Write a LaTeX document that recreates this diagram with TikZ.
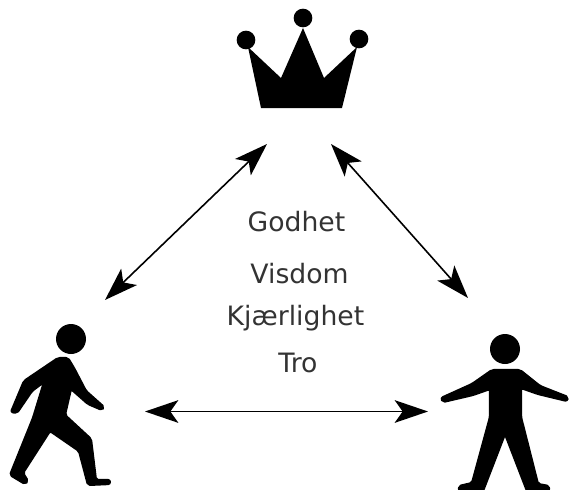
\documentclass[tikz,border=0pt]{standalone}
\usepackage{fontspec}
\setmainfont{DejaVu Sans}
\usetikzlibrary{arrows.meta,positioning,calc}

\tikzset{
    figure/.style={fill=black, draw=black, line width=1.6pt, line join=round, rounded corners=1.5pt},
    ball/.style={circle, fill=black, inner sep=0pt, minimum size=#1},
    link/.style={{Stealth[length=25pt,width=17pt,inset=6pt]}-{Stealth[length=25pt,width=17pt,inset=6pt]}, line width=1.2pt},
    word/.style={font=\fontsize{20pt}{22pt}\selectfont, text=black!80, inner sep=0pt, anchor=base}
}

\begin{document}
\begin{tikzpicture}[x=0.75pt,y=-0.75pt]
    \useasboundingbox (0,0) rectangle (569,490);

    % Crown
    \fill (261,108) -- (342,108) -- (357,47) -- (324,78) -- (303,28) -- (281,78) -- (248,47) -- cycle;
    \node[ball=14pt] (crownleft) at (246,40) {};
    \node[ball=14pt] (crowntop) at (303,18) {};
    \node[ball=14pt] (crownright) at (359,39) {};

    % Walking person
    \node[ball=22.5pt] (walkerhead) at (71,339) {};
    \draw[figure] (58,358) -- (68,358) -- (74,368) -- (86,391) -- (104,407) -- (102,410) -- (88,404) -- (71,389)
        -- (65,415) -- (91,439) -- (96,480) -- (110,480) -- (110,484) -- (88,485) -- (79,451) -- (50,431)
        -- (23,473) -- (28,481) -- (25,484) -- (10,475) -- (33,418) -- (44,382) -- (32,391) -- (17,413) -- (11,412)
        -- (24,381) -- cycle;

    % Standing person
    \node[ball=22.5pt] (standerhead) at (505,349) {};
    \draw[figure] (492,370) -- (520,370) -- (540,386) -- (568,397) -- (567,401) -- (538,394) -- (521,388)
        -- (521,417) -- (538,484) -- (549,486) -- (549,491) -- (527,491) -- (505,434) -- (483,491) -- (459,491)
        -- (459,486) -- (472,483) -- (490,417) -- (490,389) -- (473,395) -- (443,402) -- (441,398) -- (472,384) -- cycle;

    % Words in the middle
    \node[word] (godhet) at (296.5,231) {Godhet};
    \node[word] (visdom) at (299.5,283) {Visdom};
    \node[word] (kjaerlighet) at (295.5,325) {Kjærlighet};
    \node[word] (tro) at (298,372) {Tro};

    % Arrow ends
    \coordinate (crownA) at (267,144);
    \coordinate (crownB) at (331,144);
    \coordinate (walkerA) at (105,300);
    \coordinate (walkerB) at (145,411.5);
    \coordinate (standerA) at (468,298);
    \coordinate (standerB) at (428,411.5);

    \draw[link] (crownA) -- (walkerA);
    \draw[link] (crownB) -- (standerA);
    \draw[link] (walkerB) -- (standerB);
\end{tikzpicture}
\end{document}
